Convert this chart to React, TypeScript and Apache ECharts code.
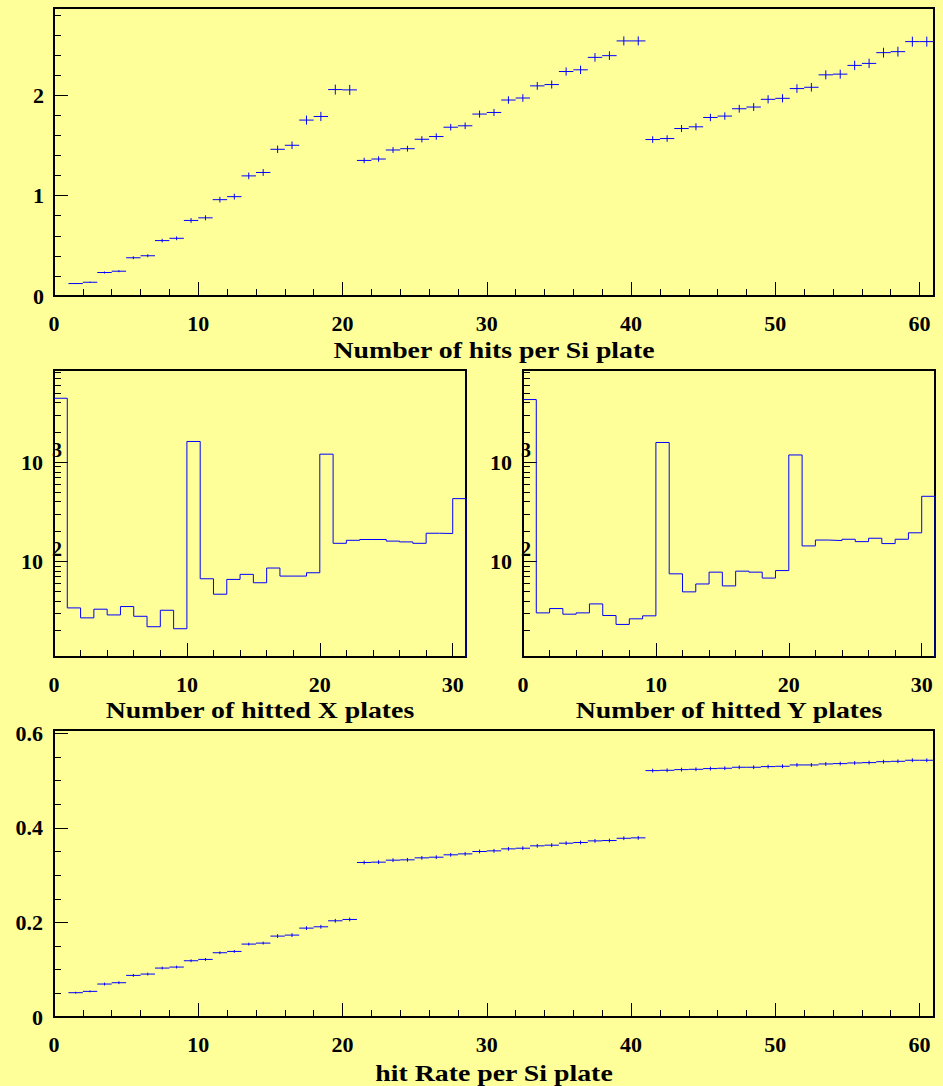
import React, { useEffect, useRef } from "react";
import * as echarts from "echarts";

// ---- data ----
// Si plate index (bins 1..60, each bin of width 1)
const siPlates = [
  1, 2, 3, 4, 5, 6, 7, 8, 9, 10, 11, 12, 13, 14, 15, 16, 17, 18, 19, 20,
  21, 22, 23, 24, 25, 26, 27, 28, 29, 30, 31, 32, 33, 34, 35, 36, 37, 38, 39, 40,
  41, 42, 43, 44, 45, 46, 47, 48, 49, 50, 51, 52, 53, 54, 55, 56, 57, 58, 59, 60,
];
const hitsPerPlate = [
  0.124, 0.137, 0.234, 0.247, 0.381, 0.401, 0.552, 0.575, 0.753, 0.779,
  0.96, 0.99, 1.197, 1.231, 1.462, 1.502, 1.753, 1.789, 2.057, 2.054,
  1.351, 1.365, 1.455, 1.468, 1.562, 1.589, 1.682, 1.696, 1.813, 1.829,
  1.953, 1.973, 2.094, 2.107, 2.237, 2.254, 2.378, 2.395, 2.542, 2.542,
  1.559, 1.569, 1.669, 1.686, 1.779, 1.793, 1.866, 1.883, 1.96, 1.97,
  2.067, 2.08, 2.204, 2.211, 2.298, 2.318, 2.425, 2.435, 2.535, 2.535,
];
const hitsErr = [
  0.005, 0.006, 0.01, 0.01, 0.014, 0.015, 0.018, 0.019, 0.024, 0.025,
  0.028, 0.029, 0.033, 0.034, 0.037, 0.038, 0.045, 0.046, 0.05, 0.05,
  0.027, 0.027, 0.029, 0.029, 0.031, 0.032, 0.033, 0.033, 0.035, 0.035,
  0.037, 0.038, 0.039, 0.04, 0.041, 0.042, 0.043, 0.043, 0.045, 0.045,
  0.033, 0.033, 0.035, 0.035, 0.037, 0.037, 0.039, 0.039, 0.041, 0.041,
  0.043, 0.043, 0.045, 0.045, 0.047, 0.047, 0.049, 0.049, 0.05, 0.05,
];
const hitRate = [
  0.0514, 0.0542, 0.0697, 0.0725, 0.088, 0.0908, 0.1035, 0.1056, 0.119, 0.1218,
  0.1359, 0.1387, 0.1542, 0.1563, 0.1711, 0.1732, 0.188, 0.1908, 0.2035, 0.2063,
  0.3268, 0.3275, 0.3317, 0.3324, 0.3366, 0.338, 0.343, 0.345, 0.35, 0.3514,
  0.3556, 0.357, 0.362, 0.3634, 0.3676, 0.369, 0.3725, 0.3732, 0.378, 0.3789,
  0.5211, 0.5218, 0.5232, 0.5239, 0.5254, 0.5261, 0.5282, 0.5282, 0.5296, 0.5303,
  0.5331, 0.5331, 0.5352, 0.5359, 0.5373, 0.538, 0.54, 0.5408, 0.543, 0.543,
];
const rateErr = [
  0.002, 0.002, 0.003, 0.003, 0.003, 0.003, 0.003, 0.003, 0.003, 0.003,
  0.003, 0.003, 0.003, 0.003, 0.004, 0.004, 0.004, 0.004, 0.004, 0.004,
  0.004, 0.004, 0.004, 0.004, 0.004, 0.004, 0.004, 0.004, 0.004, 0.004,
  0.004, 0.004, 0.004, 0.004, 0.004, 0.004, 0.004, 0.004, 0.004, 0.004,
  0.004, 0.004, 0.004, 0.004, 0.004, 0.004, 0.004, 0.004, 0.004, 0.004,
  0.004, 0.004, 0.004, 0.004, 0.004, 0.004, 0.004, 0.004, 0.004, 0.004,
];
// number of hitted plates (bins 0..30)
const plateCounts = [
  0, 1, 2, 3, 4, 5, 6, 7, 8, 9, 10, 11, 12, 13, 14, 15, 16, 17, 18, 19, 20,
  21, 22, 23, 24, 25, 26, 27, 28, 29, 30,
];
const xPlates = [
  4416, 33.9, 26.9, 32.9, 28.8, 35.0, 27.9, 21.9, 32.1, 20.9, 1618,
  66.7, 46.6, 65.7, 73.9, 60.8, 85.6, 71.0, 71.0, 76.7, 1205,
  152, 163, 166, 166, 160, 157, 152, 192, 191, 429,
];
const yPlates = [
  4285, 30.2, 33.4, 29.3, 30.2, 37.2, 28.4, 23.1, 26.3, 28.2, 1581,
  74.8, 49.2, 59.1, 77.8, 56.5, 79.6, 77.8, 67.8, 80.7, 1183,
  143, 164, 162, 167, 158, 171, 151, 167, 194, 453,
];
const logMajor = [100, 1000];
const logMinor = [20, 30, 40, 50, 60, 70, 80, 90, 200, 300, 400, 500, 600, 700, 800, 900, 2000, 3000, 4000, 5000, 6000, 7000, 8000];

const LOG_MIN = 1.035;
const LOG_MAX = 3.93;
const FONT = '"Liberation Serif", "Times New Roman", serif';
const BG = "#ffff99";
const BLUE = "#0000ff";
const TICK_FONT = 22;

function crossRender(params: any, api: any) {
  const x = api.value(0);
  const y = api.value(1);
  const e = api.value(2);
  const l = api.coord([x - 0.5, y]);
  const r = api.coord([x + 0.5, y]);
  const t = api.coord([x, y + e]);
  const b = api.coord([x, y - e]);
  const style = { stroke: BLUE, lineWidth: 1 };
  return {
    type: "group",
    children: [
      { type: "line", shape: { x1: l[0], y1: l[1], x2: r[0], y2: r[1] }, style },
      { type: "line", shape: { x1: t[0], y1: t[1], x2: b[0], y2: b[1] }, style },
    ],
  };
}

function linX(gridIndex: number, max: number) {
  return {
    type: "value",
    gridIndex,
    min: 0,
    max,
    interval: 10,
    position: "bottom",
    axisLine: { show: false },
    axisTick: { show: true, inside: true, length: 14, lineStyle: { color: "#000", width: 1 } },
    minorTick: { show: true, splitNumber: 5, length: 7, lineStyle: { color: "#000", width: 1 } },
    splitLine: { show: false },
    minorSplitLine: { show: false },
    axisLabel: {
      show: true,
      margin: 16,
      color: "#000",
      fontFamily: FONT,
      fontWeight: "bold",
      fontSize: TICK_FONT,
      showMaxLabel: false,
      formatter: (v: number) => (Math.abs(v % 10) < 1e-9 ? String(v) : ""),
    },
  };
}

function logYMajor(gridIndex: number) {
  return {
    type: "value",
    gridIndex,
    min: LOG_MIN,
    max: LOG_MAX,
    position: "left",
    axisLine: { show: false },
    splitLine: { show: false },
    axisTick: {
      show: true,
      inside: true,
      length: 14,
      customValues: logMajor.map((v) => Math.log10(v)),
      lineStyle: { color: "#000", width: 1 },
    },
    axisLabel: {
      show: true,
      customValues: logMajor.map((v) => Math.log10(v)),
      margin: 11,
      color: "#000",
      fontFamily: FONT,
      fontWeight: "bold",
      fontSize: TICK_FONT,
      formatter: () => "10",
    },
  };
}

function logYMinor(gridIndex: number) {
  return {
    type: "value",
    gridIndex,
    min: LOG_MIN,
    max: LOG_MAX,
    position: "left",
    axisLine: { show: false },
    splitLine: { show: false },
    axisTick: {
      show: true,
      inside: true,
      length: 7,
      customValues: logMinor.map((v) => Math.log10(v)),
      lineStyle: { color: "#000", width: 1 },
    },
    axisLabel: {
      show: true,
      customValues: logMajor.map((v) => Math.log10(v)),
      margin: -8,
      verticalAlign: "bottom",
      padding: [0, 0, 2, 0],
      color: "#000",
      fontFamily: FONT,
      fontWeight: "bold",
      fontSize: 20,
      formatter: (v: number) => String(Math.round(v)),
    },
  };
}

function stepData(counts: number[]) {
  const d: number[][] = plateCounts.map((c, i) => [c, Math.log10(counts[i])]);
  const last = plateCounts[plateCounts.length - 1] + 1;
  d.push([last, Math.log10(counts[counts.length - 1])]);
  d.push([last, LOG_MIN]);
  return d;
}

export default function App() {
  const ref = useRef<HTMLDivElement>(null);
  useEffect(() => {
    if (!ref.current) return;
    const chart = echarts.init(ref.current, undefined, { renderer: "svg" });
    const gridBase = { show: true, borderColor: "#000", borderWidth: 2, backgroundColor: "transparent", outerBoundsMode: "none" };
    const titleText = (text: string, x: number, y: number) => ({
      type: "text",
      x,
      y,
      scaleX: 1.21,
      style: {
        text,
        x: 0,
        y: 0,
        fill: "#000",
        font: `bold 23px ${FONT}`,
        align: "center",
        verticalAlign: "middle",
      },
    });
    const option: any = {
      animation: false,
      backgroundColor: BG,
      grid: [
        { ...gridBase, left: 54, top: 8, width: 880, height: 288 },
        { ...gridBase, left: 54, top: 370, width: 412, height: 287 },
        { ...gridBase, left: 523, top: 370, width: 412, height: 287 },
        { ...gridBase, left: 54, top: 730, width: 880, height: 287 },
      ],
      xAxis: [linX(0, 61), linX(1, 31), linX(2, 31), linX(3, 61)],
      yAxis: [
        {
          type: "value",
          gridIndex: 0,
          min: 0,
          max: 2.87,
          interval: 1,
          position: "left",
          axisLine: { show: false },
          splitLine: { show: false },
          minorSplitLine: { show: false },
          axisTick: { show: true, inside: true, length: 14, lineStyle: { color: "#000", width: 1 } },
          minorTick: { show: true, splitNumber: 5, length: 7, lineStyle: { color: "#000", width: 1 } },
          axisLabel: {
            margin: 10,
            color: "#000",
            fontFamily: FONT,
            fontWeight: "bold",
            fontSize: TICK_FONT,
            showMaxLabel: false,
            formatter: (v: number) => (Math.abs(v - Math.round(v)) < 1e-9 ? String(v) : ""),
          },
        },
        logYMajor(1),
        logYMinor(1),
        logYMajor(2),
        logYMinor(2),
        {
          type: "value",
          gridIndex: 3,
          min: 0,
          max: 0.607,
          interval: 0.2,
          position: "left",
          axisLine: { show: false },
          splitLine: { show: false },
          minorSplitLine: { show: false },
          axisTick: { show: true, inside: true, length: 14, lineStyle: { color: "#000", width: 1 } },
          minorTick: { show: true, splitNumber: 4, length: 7, lineStyle: { color: "#000", width: 1 } },
          axisLabel: {
            margin: 11,
            color: "#000",
            fontFamily: FONT,
            fontWeight: "bold",
            fontSize: TICK_FONT,
            showMaxLabel: false,
            formatter: (v: number) => (v === 0 ? "0" : v.toFixed(1)),
          },
        },
      ],
      series: [
        {
          type: "custom",
          xAxisIndex: 0,
          yAxisIndex: 0,
          renderItem: crossRender,
          encode: { x: 0, y: 1 },
          data: siPlates.map((p, i) => [p + 0.5, hitsPerPlate[i], hitsErr[i]]),
        },
        {
          type: "line",
          xAxisIndex: 1,
          yAxisIndex: 1,
          step: "end",
          showSymbol: false,
          symbol: "none",
          lineStyle: { color: BLUE, width: 1 },
          data: stepData(xPlates),
        },
        {
          type: "line",
          xAxisIndex: 2,
          yAxisIndex: 3,
          step: "end",
          showSymbol: false,
          symbol: "none",
          lineStyle: { color: BLUE, width: 1 },
          data: stepData(yPlates),
        },
        {
          type: "custom",
          xAxisIndex: 3,
          yAxisIndex: 5,
          renderItem: crossRender,
          encode: { x: 0, y: 1 },
          data: siPlates.map((p, i) => [p + 0.5, hitRate[i], rateErr[i]]),
        },
      ],
      graphic: [
        titleText("Number of hits per Si plate", 494, 350),
        titleText("Number of hitted X plates", 260, 710),
        titleText("Number of hitted Y plates", 729, 710),
        titleText("hit Rate per Si plate", 494, 1073),
      ],
    };
    chart.setOption(option);
    return () => chart.dispose();
  }, []);
  return (
    <div
      ref={ref}
      style={{ position: "fixed", left: 0, top: 0, width: 943, height: 1086, background: BG }}
    />
  );
}
